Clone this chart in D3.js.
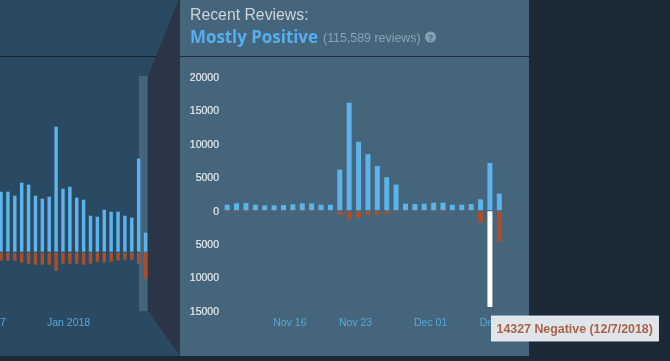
<!DOCTYPE html>
<html><head><meta charset="utf-8">
<script src="https://cdn.jsdelivr.net/npm/d3@7"></script>
<style>html,body{margin:0;padding:0;background:#1f2b39;overflow:hidden}svg{display:block}</style>
</head><body><svg id="c" width="670" height="361"></svg>
<script>
const detailDates = ["2018-11-09","2018-11-10","2018-11-11","2018-11-12","2018-11-13","2018-11-14","2018-11-15","2018-11-16","2018-11-17","2018-11-18","2018-11-19","2018-11-20","2018-11-21","2018-11-22","2018-11-23","2018-11-24","2018-11-25","2018-11-26","2018-11-27","2018-11-28","2018-11-29","2018-11-30","2018-12-01","2018-12-02","2018-12-03","2018-12-04","2018-12-05","2018-12-06","2018-12-07","2018-12-08"];
const detailPositive = [900,1100,1150,900,800,800,850,950,1100,1100,900,900,6150,16150,10300,8450,6700,5000,3900,1050,1000,1050,1200,1200,900,900,1000,1700,7150,2550];
const detailNegative = [100,100,100,50,50,50,50,50,100,100,50,50,600,1200,1000,600,600,350,100,50,50,50,50,100,50,50,50,1700,14327,4600];
const detailTicks = ["2018-11-16","2018-11-23","2018-12-01","2018-12-08"];
const detailTickLabels = ["Nov 16","Nov 23","Dec 01","Dec 08"];
const yTicks = [20000,15000,10000,5000,0,-5000,-10000,-15000];
const overviewIdx = d3.range(22);
const overviewPositive = [60,60,56,69,67,56,53,55,125,63,65,54,52,36,35,42,40,40,36,34,93,19];
const overviewNegative = [8,8,8,10,11,12,12,12,18,11,11,11,12,11,9,10,9,8,7,7,11,26];

const svg = d3.select("#c");
const font = "Arial, 'Liberation Sans', sans-serif";
const blue="#5cb4ea", red="#a8502f";

const defs = svg.append("defs");
defs.append("filter").attr("id","soft").attr("x","-5%").attr("y","-5%").attr("width","110%").attr("height","110%")
  .append("feGaussianBlur").attr("stdDeviation",0.45);
const root = svg.append("g").attr("filter","url(#soft)");

// backgrounds
root.append("rect").attr("width",670).attr("height",361).attr("fill","#1f2b39");
root.append("rect").attr("x",0).attr("y",0).attr("width",180).attr("height",356).attr("fill","#2b4a62");
root.append("polygon").attr("points",[[178.5,0],[148,76],[148,311],[180,356],[180,0]].join(" ")).attr("fill","#2a3646");
root.append("line").attr("x1",0).attr("x2",156).attr("y1",56.5).attr("y2",56.5).attr("stroke","#15202e").attr("stroke-width",1);
root.append("rect").attr("x",180).attr("y",0).attr("width",349).attr("height",356).attr("fill","#44657d");
root.append("line").attr("x1",180).attr("x2",529).attr("y1",56.5).attr("y2",56.5).attr("stroke","#1c2b4a").attr("stroke-width",1.2);

// header
root.append("text").attr("x",190).attr("y",20).attr("font-family",font).attr("font-size",15.8).attr("fill","#cdd5da").text("Recent Reviews:");
root.append("text").attr("x",190).attr("y",42.5).attr("font-family","'Open Sans',sans-serif").attr("font-weight",700).attr("font-size",16.9).attr("fill","#56aeea").text("Mostly Positive");
root.append("text").attr("x",323).attr("y",42).attr("font-family",font).attr("font-size",12.4).attr("fill","#8ba3b4").text("(115,589 reviews)");
root.append("circle").attr("cx",430.5).attr("cy",37).attr("r",5.5).attr("fill","#86a0b2");
root.append("text").attr("x",430.5).attr("y",40.5).attr("text-anchor","middle").attr("font-family",font).attr("font-weight",700).attr("font-size",9).attr("fill","#44657d").text("?");

// detail chart
const y = d3.scaleLinear().domain([-15000,20000]).range([311,77]);
const x = d3.scaleBand().domain(detailDates).range([222.5,504]).paddingInner(0.47).paddingOuter(0.235);
const yAxis = d3.axisLeft(y).tickValues(yTicks).tickSize(0).tickFormat(d=>Math.abs(d));
const gy = root.append("g").attr("transform","translate(222,0)").call(yAxis);
gy.select(".domain").remove();
gy.selectAll("text").attr("font-family",font).attr("font-size",10.5).attr("font-weight",500).attr("fill","#e4eaee").attr("stroke","#e4eaee").attr("stroke-width",0.2).attr("dy","0.32em");

const xAxis = d3.axisBottom(x).tickValues(detailTicks).tickSize(0).tickFormat((d,i)=>detailTickLabels[i]);
const gx = root.append("g").attr("transform","translate(-3,316)").call(xAxis);
gx.select(".domain").remove();
gx.selectAll("text").attr("font-family",font).attr("font-size",10.5).attr("fill","#58a8da");

root.append("g").selectAll("rect").data(detailDates).join("rect")
  .attr("x",d=>x(d)).attr("width",x.bandwidth())
  .attr("y",(d,i)=>y(detailPositive[i])).attr("height",(d,i)=>y(0)-y(detailPositive[i])-0.5).attr("fill",blue);
root.append("g").selectAll("rect").data(detailDates).join("rect")
  .attr("x",d=>x(d)).attr("width",x.bandwidth())
  .attr("y",y(0)+0.5).attr("height",(d,i)=>y(0)-y(detailNegative[i]))
  .attr("fill",d=>d==="2018-12-07"?"#ffffff":red);

// overview chart
const ox = d3.scaleBand().domain(overviewIdx).range([-2.4,149]).paddingInner(0.5).paddingOuter(0.25);
const oy = d3.scaleLinear().domain([0,125]).range([251.7,126.7]);
root.append("rect").attr("x",139).attr("y",76).attr("width",8.5).attr("height",235).attr("fill","#44657d");
root.append("g").selectAll("rect").data(overviewIdx).join("rect")
  .attr("x",d=>ox(d)).attr("width",ox.bandwidth())
  .attr("y",d=>oy(overviewPositive[d])).attr("height",d=>oy(0)-oy(overviewPositive[d])).attr("fill",blue);
root.append("g").selectAll("rect").data(overviewIdx).join("rect")
  .attr("x",d=>ox(d)).attr("width",ox.bandwidth())
  .attr("y",oy(0)+1).attr("height",d=>oy(0)-oy(overviewNegative[d])).attr("fill",red);
root.append("text").attr("x",47).attr("y",326).attr("font-family",font).attr("font-size",10.5).attr("fill","#58a8da").text("Jan 2018");
root.append("text").attr("x",0).attr("y",326).attr("font-family",font).attr("font-size",10.5).attr("fill","#58a8da").text("7");

// tooltip
const tt = root.append("g");
tt.append("rect").attr("x",491.5).attr("y",316).attr("width",167).attr("height",25).attr("fill","#dfe5ea").attr("stroke","#f2f5f7").attr("stroke-width",0.8);
tt.append("text").attr("x",496.5).attr("y",332.5).attr("font-family",font).attr("font-weight",700).attr("font-size",12.4).attr("fill","#a8634a").text("14327 Negative (12/7/2018)");
</script></body></html>
